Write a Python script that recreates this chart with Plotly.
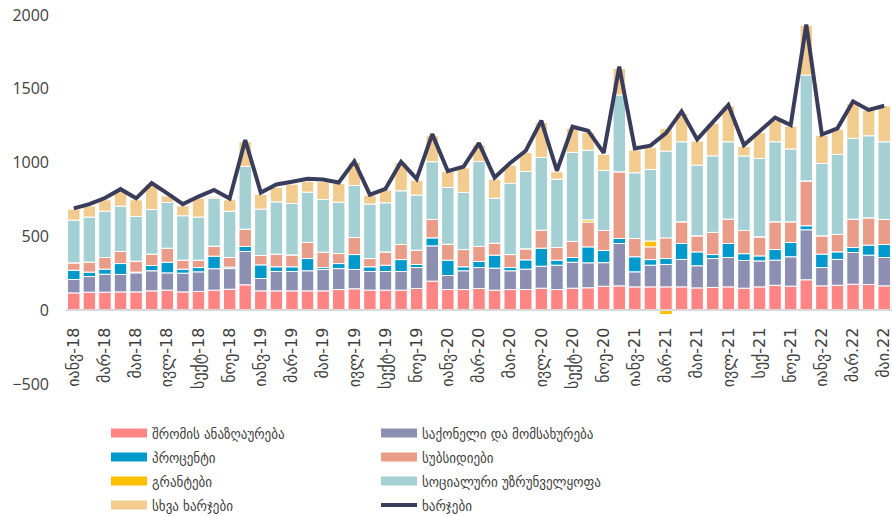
import plotly.graph_objects as go

months = [
    "იანვ-18", "თებ-18", "მარ-18", "აპრ-18", "მაი-18", "ივნ-18", "ივლ-18", "აგვ-18", "სექტ-18", "ოქტ-18", "ნოე-18", "დეკ-18",
    "იანვ-19", "თებ-19", "მარ-19", "აპრ-19", "მაი-19", "ივნ-19", "ივლ-19", "აგვ-19", "სექტ-19", "ოქტ-19", "ნოე-19", "დეკ-19",
    "იანვ-20", "თებ-20", "მარ-20", "აპრ-20", "მაი-20", "ივნ-20", "ივლ-20", "აგვ-20", "სექტ-20", "ოქტ-20", "ნოე-20", "დეკ-20",
    "იანვ-21", "თებ-21", "მარ-21", "აპრ-21", "მაი-21", "ივნ-21", "ივლ-21", "აგვ-21", "სექ-21", "ოქტ-21", "ნოე-21", "დეკ-21",
    "იანვ-22", "თებ.22", "მარ.22", "აპრ.22", "მაი.22",
]

labor = [117, 122, 122, 124, 124, 131, 136, 124, 127, 136, 142, 172,
         131, 131, 131, 131, 131, 140, 145, 136, 136, 136, 147, 197,
         140, 140, 147, 136, 140, 140, 149, 140, 149, 152, 162, 165,
         158, 158, 158, 158, 151, 154, 158, 149, 158, 169, 163, 206,
         165, 169, 176, 174, 165]
goods = [91, 106, 122, 118, 129, 136, 117, 127, 133, 145, 140, 226,
         84, 131, 131, 136, 145, 142, 131, 126, 126, 126, 142, 239,
         95, 127, 142, 149, 127, 138, 149, 165, 176, 169, 160, 287,
         102, 147, 152, 186, 150, 196, 199, 188, 176, 170, 199, 339,
         124, 175, 215, 199, 192]
interest = [63, 30, 34, 74, 5, 36, 72, 27, 29, 85, 10, 34,
            92, 32, 32, 83, 13, 34, 101, 32, 43, 81, 21, 54,
            104, 27, 41, 88, 22, 63, 122, 34, 32, 108, 83, 34,
            102, 38, 40, 108, 94, 27, 95, 46, 34, 72, 97, 27,
            91, 51, 34, 68, 88]
subsidies = [50, 68, 79, 82, 74, 77, 95, 61, 50, 68, 65, 117,
             64, 86, 81, 109, 104, 68, 116, 56, 90, 102, 97, 125,
             108, 117, 102, 81, 88, 75, 122, 86, 109, 168, 135, 452,
             124, 86, 140, 147, 109, 150, 165, 157, 129, 188, 140, 304,
             124, 118, 192, 185, 170]
grants = [0, 0, 0, 0, 0, 0, 0, 0, 0, 0, 0, 0,
          0, 0, 0, 0, 0, 0, 0, 0, 0, 0, 0, 0,
          0, 0, 0, 0, 0, 0, 0, 0, 0, 15, 0, 0,
          0, 40, -30, 0, 0, 0, 0, 0, 0, 0, 0, 0,
          0, 0, 0, 0, 0]
social = [289, 305, 314, 307, 303, 302, 310, 301, 292, 325, 314, 425,
          314, 354, 348, 341, 357, 348, 352, 369, 333, 364, 373, 391,
          385, 387, 576, 305, 482, 524, 493, 463, 603, 472, 407, 520,
          445, 485, 588, 542, 479, 519, 524, 505, 531, 542, 493, 717,
          490, 542, 547, 556, 526]
other = [75, 75, 77, 97, 113, 172, 45, 67, 128, 8, 77, 167,
         101, 98, 131, 72, 120, 127, 156, 61, 86, 192, 101, 176,
         106, 167, 111, 129, 124, 129, 237, 50, 165, 120, 109, 180,
         154, 147, 154, 192, 163, 220, 242, 65, 174, 147, 155, 337,
         190, 170, 236, 173, 244]
total = [690, 718, 760, 820, 758, 862, 792, 719, 770, 815, 757, 1153,
         797, 852, 870, 890, 886, 865, 1008, 783, 822, 1005, 890, 1193,
         942, 972, 1132, 899, 998, 1080, 1284, 945, 1243, 1216, 1066, 1650,
         1096, 1115, 1200, 1347, 1157, 1277, 1390, 1119, 1209, 1305, 1254, 1935,
         1190, 1232, 1415, 1357, 1385]

series = [
    ("შრომის ანაზღაურება", labor, "#FF8585"),
    ("საქონელი და მომსახურება", goods, "#8C8FB1"),
    ("პროცენტი", interest, "#0099CC"),
    ("სუბსიდიები", subsidies, "#E99C88"),
    ("გრანტები", grants, "#FFC000"),
    ("სოციალური უზრუნველყოფა", social, "#A5D0D3"),
    ("სხვა ხარჯები", other, "#F2CB8E"),
]
line_name = "ხარჯები"
line_color = "#393C5B"

W, H = 892, 516
txt = "#404040"
legend_ids = ["legend"] + ["legend%d" % i for i in range(2, 9)]

fig = go.Figure()
for name, vals, color in series:
    fig.add_trace(go.Bar(
        x=months, y=vals, name=name, legendgroup=name, showlegend=False,
        marker=dict(color=color, line=dict(color="white", width=1)),
    ))
fig.add_trace(go.Scatter(
    x=months, y=total, name=line_name, mode="lines", legend=legend_ids[7],
    line=dict(color=line_color, width=4), legendgroup=line_name,
))
# legend swatches (wide rectangles like the original), 2 columns x 4 rows
for i, (name, vals, color) in enumerate(series):
    fig.add_trace(go.Scatter(
        x=[None], y=[None], mode="lines", name=name, legendgroup=name,
        legend=legend_ids[i], line=dict(color=color, width=9),
    ))

col_x = [112, 382]
row_y = [433, 457, 481, 505]
legends = {}
for i, lid in enumerate(legend_ids):
    r, c = divmod(i, 2)
    legends[lid] = dict(
        xref="container", yref="container", xanchor="left", yanchor="top",
        x=(col_x[c] - 6) / W, y=1 - (row_y[r] - 16) / H,
        font=dict(size=14.5, family="DejaVu Sans Condensed, DejaVu Sans", color=txt),
        bgcolor="rgba(0,0,0,0)", orientation="v", itemwidth=36,
    )

fig.update_layout(
    width=W, height=H,
    margin=dict(l=66, r=0, t=15, b=131.5, autoexpand=False),
    paper_bgcolor="white", plot_bgcolor="white",
    barmode="relative", bargap=0.2,
    font=dict(family="Open Sans, DejaVu Sans", color=txt),
    xaxis=dict(
        type="category", categoryorder="array", categoryarray=months,
        range=[-0.5, 52.5], anchor="free", position=0.2,
        showline=True, linecolor="#D9D9D9", linewidth=2,
        tickmode="array", tickvals=months[::2], ticktext=months[::2],
        tickangle=-90, ticks="", ticklabelstandoff=10,
        tickfont=dict(size=16, family="DejaVu Sans", color=txt),
        showgrid=False, zeroline=False,
    ),
    yaxis=dict(
        range=[-500, 2000], dtick=500, tick0=0, showgrid=False, zeroline=False,
        showline=False, ticks="", ticklabelstandoff=16, ticklabeloverflow="allow",
        tickfont=dict(size=16, family="Open Sans", color=txt),
    ),
    **legends,
)
# remove the default 8px page margin so the figure sits at the window's corner
fig.write_html(
    "out.html",
    config={"displayModeBar": False},
    post_script="document.body.style.margin='0';",
)
